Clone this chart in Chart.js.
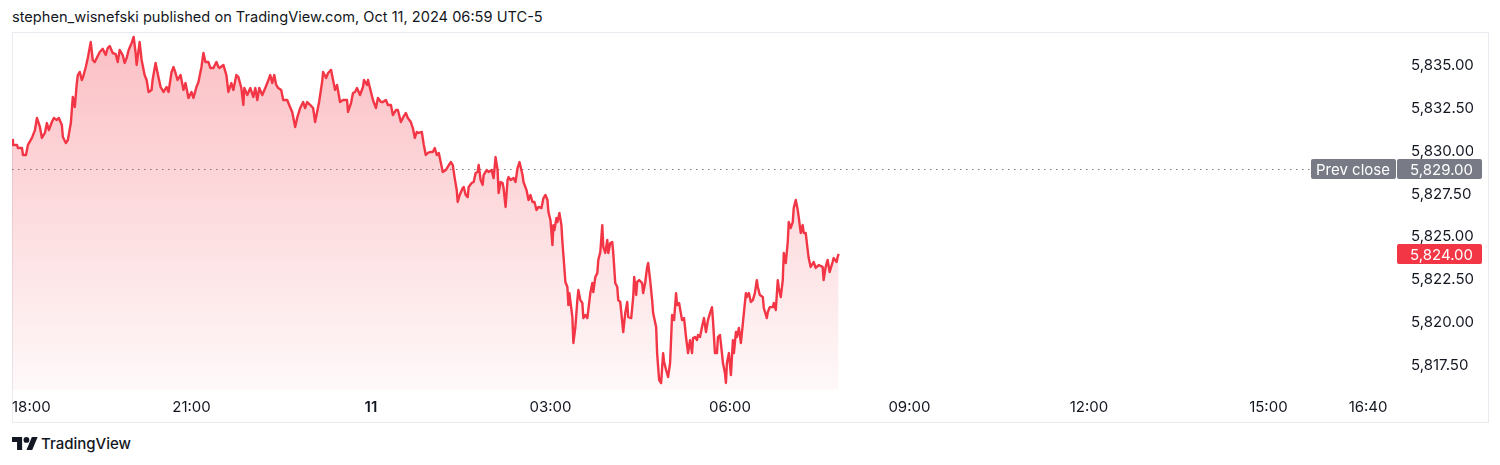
<!DOCTYPE html>
<html>
<head>
<meta charset="utf-8">
<script src="https://cdn.jsdelivr.net/npm/chart.js@4.4.1/dist/chart.umd.min.js"></script>
<style>
  html, body { margin: 0; padding: 0; background: #fff; }
  body { width: 1500px; height: 465px; position: relative; overflow: hidden; font-family: Inter, "Noto Sans", sans-serif; color: #131722; }
  #titulo { position: absolute; left: 12px; top: 8px; font-size: 14.6px; line-height: 18px; }
  #marco { position: absolute; left: 12px; top: 32px; width: 1475px; height: 389px; border: 1px solid #e9ebf1; }
  #logo { position: absolute; left: 12px; top: 434px; display: flex; align-items: center; font-size: 15px; font-weight: 500; }
  #logo svg { margin-right: 3px; }
  canvas { position: absolute; left: 0; top: 0; }
</style>
</head>
<body>
<div id="titulo">stephen_wisnefski published on TradingView.com, Oct 11, 2024 06:59 UTC-5</div>
<div id="marco"></div>
<div id="logo"><svg width="26" height="13" viewBox="0 4 36 18"><path fill="#131722" d="M14 22H7V11H0V4h14v18zM28 22h-8l7.5-18h8L28 22z"/><circle fill="#131722" cx="20" cy="8" r="4"/></svg>TradingView</div>
<canvas id="grafica" width="1500" height="465"></canvas>
<script>
// minutos desde las 18:00 del dia 10
const minutes = [0,1,5,6,10,11,14,16,20,23,25,28,30,33,35,37,40,42,45,47,50,51,54,56,59,61,63,65,66,68,70,71,74,76,79,81,83,85,88,91,94,96,98,101,104,106,108,111,113,115,117,120,122,124,125,128,130,133,135,137,140,141,144,146,149,152,155,157,160,162,164,166,169,172,174,177,180,182,185,187,190,192,194,197,199,202,205,207,
  208,212,215,217,220,222,225,227,230,232,233,236,239,242,244,246,248,251,254,256,259,261,263,265,267,270,272,276,278,281,284,286,289,292,294,296,299,302,304,306,308,311,312,315,317,320,322,324,326,329,332,336,337,340,342,344,346,349,352,353,356,357,360,362,365,367,370,372,375,377,380,382,385,387,390,392,395,397,400,402,404,406,408,
  411,413,415,417,420,422,424,426,428,431,432,435,437,440,442,444,446,447,449,452,453,455,457,458,461,463,465,467,468,470,472,473,476,478,481,483,485,487,488,490,492,493,495,497,498,500,503,505,507,509,512,513,516,518,520,522,524,526,528,531,533,535,537,538,540,542,543,544,546,547,549,551,552,553,555,557,558,559,562,563,565,567,568,570,572,573,575,577,578,580,582,583,585,587,588,590,592,593,595,597,598,600,602,603,605,607,608,
  610,613,615,617,618,621,623,624,626,627,629,632,633,635,637,638,640,642,643,646,647,649,651,653,654,656,658,660,662,664,666,667,669,672,674,676,678,680,682,683,685,687,688,690,692,694,696,698,700,702,703,705,707,708,710,712,713,715,716,717,719,721,723,724,726,727,729,731,733,734,736,737,739,741,743,745,747,748,750,753,754,757,758,760,763,764,766,768,769,771,773,774,776,778,779,781,783,784,786,788,789,791,793,794,796,798,799,801,804,806,809,813,814,816,818,820,823,824,827,828,829];

const prices = [5830.67,5830.38,5830.38,5830.20,5830.20,5829.79,5829.79,5830.38,5830.79,5831.25,5831.96,5831.43,5830.79,5831.08,5831.66,5831.25,5831.72,5831.96,5831.84,5831.96,5831.55,5830.84,5830.49,5830.67,5831.66,5833.19,5832.60,5834.00,5834.47,5834.65,5834.18,5834.30,5834.94,5835.47,5836.40,5835.35,5835.23,5835.47,5835.82,5836.00,5835.64,5836.05,5836.17,5835.76,5835.70,5835.23,5835.94,5835.64,5835.18,5835.47,5835.94,5836.35,5836.70,5835.76,5835.06,5836.40,5835.35,5834.47,5834.18,5833.48,5833.60,5834.18,5835.18,5834.59,5833.77,5833.48,5833.77,5833.48,5834.65,5834.94,5834.59,5834.18,5834.47,5833.60,5834.00,5833.13,5833.48,5833.13,5833.77,5834.06,5834.94,5835.76,5835.23,5835.23,5834.88,5834.88,5835.23,5834.94,
  5834.88,5835.06,5834.47,5833.48,5834.00,5833.60,5834.47,5834.36,5833.71,5832.72,5833.71,5833.30,5833.71,5833.19,5833.71,5833.01,5833.71,5833.30,5833.71,5834.00,5834.47,5834.00,5834.47,5833.89,5833.71,5833.60,5833.01,5833.01,5832.72,5832.31,5831.43,5831.96,5832.54,5832.89,5832.54,5832.89,5832.72,5832.54,5831.72,5832.31,5832.89,5834.06,5834.65,5834.30,5834.59,5834.77,5834.18,5833.60,5833.89,5832.89,5833.01,5833.01,5832.31,5832.83,5833.42,5833.48,5833.71,5833.30,5833.77,5834.18,5833.89,5834.18,5833.48,5833.01,5832.54,5833.13,5832.89,5832.89,5833.01,5832.72,5832.72,5832.13,5832.42,5832.42,5831.72,5831.96,5832.25,5831.96,5831.72,5831.37,5830.79,5831.14,5831.08,
  5831.14,5830.38,5829.79,5829.91,5829.97,5829.97,5830.20,5829.79,5829.91,5829.09,5828.80,5828.91,5829.09,5829.38,5829.21,5828.44,5827.74,5827.04,5827.45,5827.86,5827.92,5827.45,5827.33,5827.92,5828.15,5828.21,5828.74,5828.80,5829.21,5828.33,5828.04,5828.62,5828.91,5828.80,5828.91,5828.44,5829.67,5828.91,5827.57,5828.21,5828.15,5827.86,5826.75,5828.33,5828.50,5828.33,5828.44,5828.21,5829.03,5829.38,5828.62,5828.21,5827.74,5827.16,5827.45,5827.04,5827.04,5826.57,5826.75,5826.69,5827.27,5827.45,5827.16,5826.45,5825.99,5824.52,5825.69,5825.40,5826.10,5825.87,5826.40,5825.69,5824.70,5823.94,5822.36,5822.07,5821.01,5821.71,5820.31,5818.79,5819.72,5821.30,5821.89,5821.30,5821.13,5820.25,5820.43,5820.25,5820.72,5821.71,5822.30,5821.77,5822.65,5822.88,5823.65,5824.11,5825.69,5824.41,5824.06,5824.82,5824.06,5824.64,5824.70,5824.06,5822.30,5822.07,5821.30,
  5821.19,5819.43,5820.54,5821.19,5820.31,5820.25,5821.48,5822.65,5821.60,5822.36,5822.47,5822.30,5821.71,5822.30,5823.24,5823.47,5822.47,5821.30,5820.54,5819.72,5818.20,5816.62,5816.45,5818.20,5817.68,5817.21,5816.80,5817.62,5820.43,5820.13,5821.71,5821.01,5821.13,5820.13,5820.25,5819.14,5818.20,5818.96,5818.20,5819.08,5819.14,5818.96,5819.26,5819.14,5819.72,5820.25,5819.43,5820.13,5820.54,5820.89,5820.13,5818.20,5818.20,5819.14,5819.26,5818.20,5817.62,5817.03,5816.45,5817.62,5818.20,5816.91,5818.96,5818.20,5819.43,5819.14,5819.67,5818.79,5819.96,5820.54,5821.71,5821.48,5821.71,5821.19,5821.30,5821.71,5822.47,5822.07,5821.60,5821.48,5820.84,5820.25,5820.60,5820.89,5820.89,5821.13,5820.72,5822.47,5822.01,5821.48,5822.47,5824.06,5823.47,5824.70,5825.87,5825.52,5825.87,5826.69,5827.16,5826.57,5826.16,5825.23,5825.69,5825.23,5825.23,5824.23,5823.76,5823.24,5823.53,5823.18,5823.35,5823.24,5822.47,5823.24,5823.65,5822.94,5823.53,5823.76,5823.53,5823.82,5824.00];

const xTickMinutes = [0, 180, 360, 540, 720, 900, 1080, 1260, 1360];
const xTickLabels = ["18:00", "21:00", "11", "03:00", "06:00", "09:00", "12:00", "15:00", "16:40"];
const yTicks = [5817.5, 5820, 5822.5, 5825, 5827.5, 5830, 5832.5, 5835];
const prevClose = 5829;
const lastPrice = 5824;

const rojo = "#f23645";
const gris = "#787b86";
const texto = "#131722";
const fuente = "Inter, 'Noto Sans', sans-serif";

function formato(v) {
    return v.toLocaleString("en-US", { minimumFractionDigits: 2, maximumFractionDigits: 2 });
}

function etiqueta(c, x1, x2, y, fondo, txt, alinear, xt) {
    c.fillStyle = fondo;
    c.beginPath();
    c.roundRect(x1, y - 10, x2 - x1, 20, 2);
    c.fill();
    c.fillStyle = "#ffffff";
    c.textAlign = alinear;
    c.textBaseline = "middle";
    c.fillText(txt, xt, y + 1);
}

const marcas = {
    id: "marcas",
    beforeDatasetsDraw(chart) {
        const c = chart.ctx;
        const area = chart.chartArea;
        const y = chart.scales.y.getPixelForValue(prevClose);
        c.save();
        c.strokeStyle = gris;
        c.lineWidth = 1;
        c.setLineDash([1.5, 4.5]);
        c.beginPath();
        c.moveTo(area.left, Math.round(y) + 0.5);
        c.lineTo(1311, Math.round(y) + 0.5);
        c.stroke();
        c.restore();
    },
    afterDraw(chart) {
        const c = chart.ctx;
        const esc = chart.scales.y;
        c.save();
        c.font = "15px " + fuente;
        const yp = Math.round(esc.getPixelForValue(prevClose));
        etiqueta(c, 1311, 1396, yp, gris, "Prev close", "center", 1353);
        etiqueta(c, 1397, 1482, yp, gris, formato(prevClose), "right", 1473);
        const yl = Math.round(esc.getPixelForValue(lastPrice));
        etiqueta(c, 1397, 1482, yl, rojo, formato(lastPrice), "right", 1473);
        c.restore();
    }
};

const ctx = document.getElementById("grafica").getContext("2d");
new Chart(ctx, {
    type: "line",
    data: {
        datasets: [{
            data: minutes.map((m, i) => ({ x: m, y: prices[i] })),
            borderColor: rojo,
            borderWidth: 2.4,
            borderJoinStyle: "round",
            pointRadius: 0,
            tension: 0,
            fill: "start",
            backgroundColor: (context) => {
                const area = context.chart.chartArea;
                if (!area) return "rgba(242,54,69,0.15)";
                const g = context.chart.ctx.createLinearGradient(0, area.top, 0, area.bottom);
                g.addColorStop(0, "rgba(242,54,69,0.32)");
                g.addColorStop(1, "rgba(242,54,69,0.03)");
                return g;
            }
        }]
    },
    options: {
        responsive: false,
        animation: false,
        devicePixelRatio: 1,
        layout: { padding: { left: 12, top: 33, right: 27, bottom: 43 } },
        plugins: {
            legend: { display: false },
            tooltip: { enabled: false }
        },
        scales: {
            x: {
                type: "linear",
                min: 0,
                max: 1387,
                grid: { display: false, drawTicks: false },
                border: { display: false },
                afterBuildTicks: (scale) => {
                    scale.ticks = xTickMinutes.map(v => ({ value: v })).concat([{ value: 1387 }]);
                },
                afterFit: (scale) => { scale.height = 32; },
                ticks: {
                    autoSkip: false,
                    maxRotation: 0,
                    align: "inner",
                    padding: 8,
                    color: texto,
                    font: (c) => ({ family: fuente, size: 15, weight: c.tick && c.tick.value === 360 ? "600" : "400" }),
                    callback: (v) => {
                        const i = xTickMinutes.indexOf(v);
                        return i >= 0 ? xTickLabels[i] : "";
                    }
                }
            },
            y: {
                position: "right",
                min: 5816.04,
                max: 5836.93,
                grid: { display: false, drawTicks: false },
                border: { display: false },
                afterBuildTicks: (scale) => {
                    scale.ticks = yTicks.map(v => ({ value: v }));
                },
                afterFit: (scale) => { scale.width = 78; },
                ticks: {
                    padding: 16,
                    color: texto,
                    font: { family: fuente, size: 15 },
                    callback: (v) => formato(v)
                }
            }
        }
    },
    plugins: [marcas]
});
</script>
</body>
</html>
